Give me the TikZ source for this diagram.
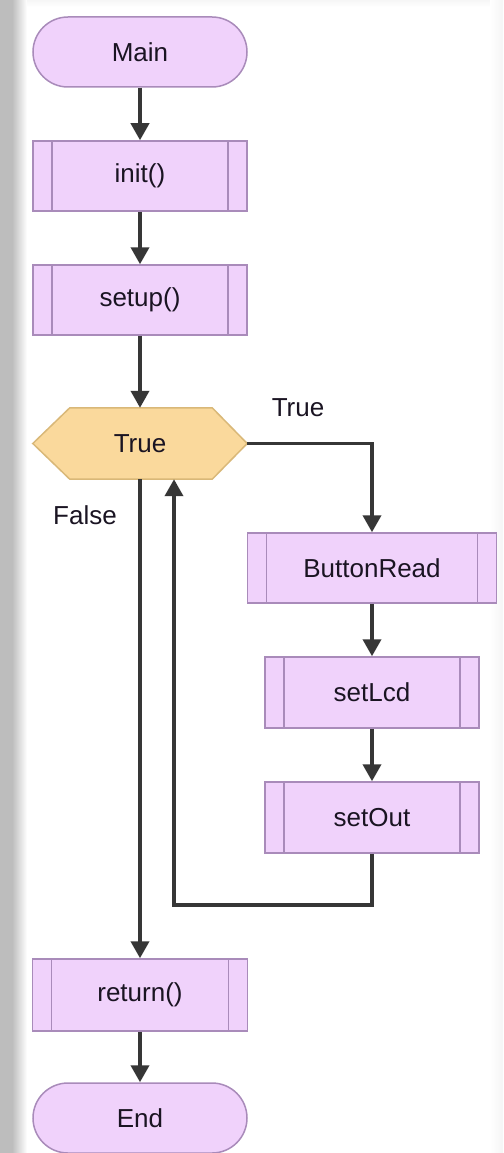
\documentclass[tikz,border=0pt]{standalone}
\usepackage{fontspec}
\setmainfont{Liberation Sans}
\usetikzlibrary{arrows.meta,calc}
\definecolor{pfill}{HTML}{F0D2FB}
\definecolor{pdraw}{HTML}{A98BBA}
\definecolor{hfill}{HTML}{FAD99C}
\definecolor{hdraw}{HTML}{D9B878}
\definecolor{lcol}{HTML}{363636}
\definecolor{tcol}{HTML}{1A1422}
\tikzset{
  txt/.style={font=\fontsize{26}{31}\selectfont, text=tcol},
  term/.style={txt, draw=pdraw, fill=pfill, line width=1.5pt, rounded corners=35pt, minimum width=214pt, minimum height=70pt, inner sep=0pt},
  proc/.style={txt, draw=pdraw, fill=pfill, line width=1.5pt, minimum height=70pt, inner sep=0pt,
    path picture={\draw[draw=pdraw, line width=1.5pt]
      ([xshift=19pt]path picture bounding box.north west) -- ([xshift=19pt]path picture bounding box.south west)
      ([xshift=-19pt]path picture bounding box.north east) -- ([xshift=-19pt]path picture bounding box.south east);}},
  decnode/.style={txt, minimum width=214pt, minimum height=71pt, inner sep=0pt},
  arr/.style={draw=lcol, line width=3.8pt, -{Triangle[length=17pt,width=18pt]}},
  lbl/.style={txt, inner sep=0pt}
}
\begin{document}
\begin{tikzpicture}[x=1pt,y=-1pt]
\useasboundingbox (0,0) rectangle (503,1153);
\fill[white] (0,0) rectangle (503,1153);
\fill[gray!52] (0,0) rectangle (12,1153);
\shade[left color=gray!52, right color=white] (12,0) rectangle (27,1153);
\shade[top color=gray!7, bottom color=white] (27,0) rectangle (503,7);
\shade[left color=white, right color=gray!8] (490,0) rectangle (503,1153);

\node[term] (main) at (140,52) {Main};
\node[proc, minimum width=214pt] (init) at (140,176) {init()};
\node[proc, minimum width=214pt] (setup) at (140,300) {setup()};
\node[decnode] (dec) at (140,443.5) {};
\filldraw[draw=hdraw, fill=hfill, line width=1.5pt]
  (dec.west) -- ([xshift=37pt]dec.north west) -- ([xshift=-35pt]dec.north east)
  -- (dec.east) -- ([xshift=-35pt]dec.south east) -- ([xshift=37pt]dec.south west) -- cycle;
\node[txt] (dectxt) at (dec.center) {True};
\node[proc, minimum width=249pt] (btn) at (372,568) {ButtonRead};
\node[proc, minimum width=214pt, minimum height=71pt] (lcd) at (372,692.5) {setLcd};
\node[proc, minimum width=214pt, minimum height=71pt] (out) at (372,817.5) {setOut};
\node[proc, minimum width=215pt, minimum height=72pt] (ret) at (140,995) {return()};
\node[term] (end) at (140,1118) {End};

\node[lbl] (ltrue) at (298,408) {True};
\node[lbl] (lfalse) at (85,515) {False};

\draw[arr] (main) -- (init);
\draw[arr] (init) -- (setup);
\draw[arr] (setup) -- (dec.north);
\draw[arr] (dec.east) -| (btn.north);
\draw[arr] (btn) -- (lcd);
\draw[arr] (lcd) -- (out);
\draw[arr] (out.south) -- ++(0,51) -| ([xshift=34pt]dec.south);
\draw[arr] (dec.south) -- (ret.north);
\draw[arr] (ret) -- (end);
\end{tikzpicture}
\end{document}
